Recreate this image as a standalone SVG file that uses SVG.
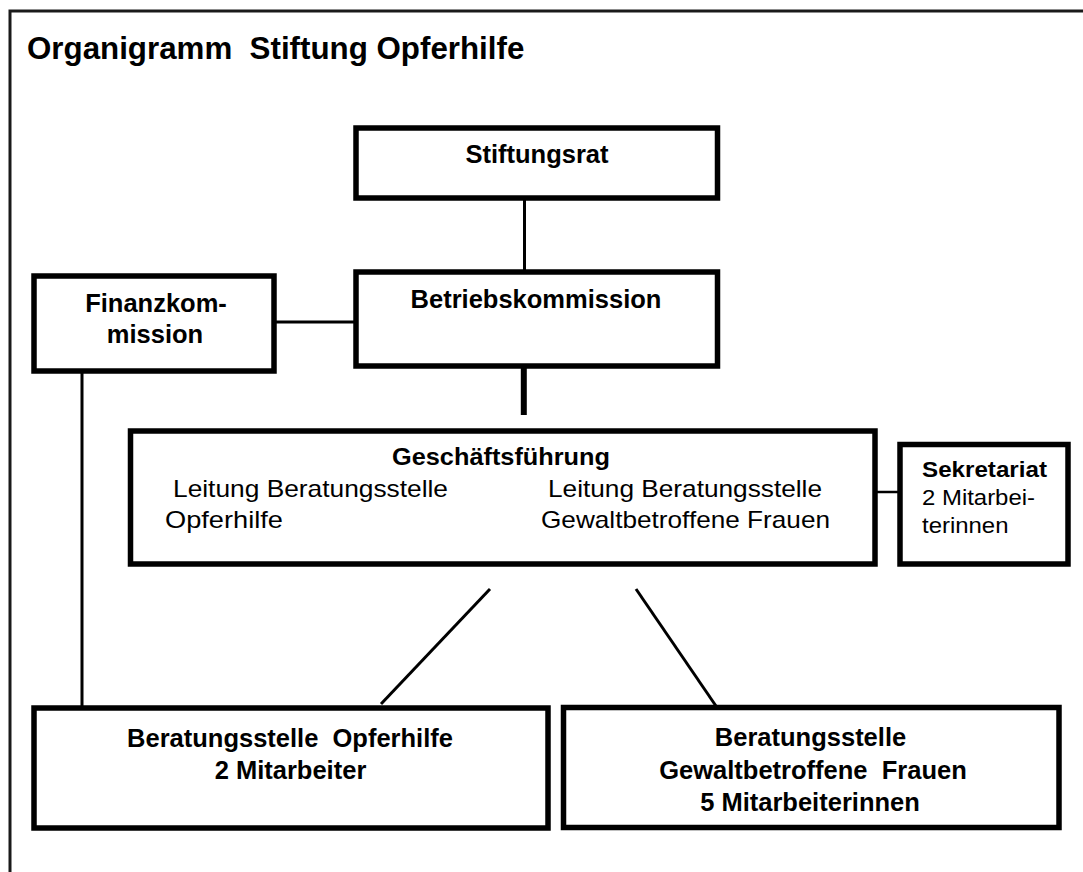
<svg xmlns="http://www.w3.org/2000/svg" width="1083" height="872" viewBox="0 0 1083 872">
<style>
.box{fill:#fff;stroke:#000;stroke-width:5.5}
.ln{stroke:#000;stroke-width:3;fill:none}
.t{font-family:"Liberation Sans",Arial,sans-serif;fill:#000}
.b{font-weight:bold;font-size:25.5px}
.r{font-size:24px}
.s{font-size:22px}
.c{text-anchor:middle}
</style>
<rect x="0" y="0" width="1083" height="872" fill="#fff"/>
<rect id="frame" x="10" y="11" width="1100" height="900" fill="none" stroke="#1a1a1a" stroke-width="3"/>
<text class="t" font-weight="bold" style="font-size:31.3px" x="27" y="58.5" xml:space="preserve">Organigramm  Stiftung Opferhilfe</text>
<g id="connectors">
<line class="ln" x1="524.5" y1="198" x2="524.5" y2="272"/>
<line class="ln" x1="523.8" y1="366" x2="523.8" y2="415" style="stroke-width:6"/>
<line class="ln" x1="274" y1="322" x2="356" y2="322"/>
<line class="ln" x1="82" y1="371" x2="82" y2="708"/>
<line class="ln" x1="875" y1="492" x2="900" y2="492" style="stroke-width:2.5"/>
<line class="ln" x1="490" y1="589" x2="381" y2="704"/>
<line class="ln" x1="636" y1="589" x2="716" y2="706"/>
</g>
<g id="stiftungsrat">
<rect class="box" x="356" y="128" width="361.5" height="70"/>
<text class="t b c" x="537" y="163">Stiftungsrat</text>
</g>
<g id="betriebskommission">
<rect class="box" x="356" y="272" width="361.5" height="94"/>
<text class="t b c" x="536" y="308">Betriebskommission</text>
</g>
<g id="finanzkommission">
<rect class="box" x="34" y="276" width="240" height="95"/>
<text class="t b c" x="156" y="311.5">Finanzkom-</text>
<text class="t b c" x="155" y="343">mission</text>
</g>
<g id="geschaeftsfuehrung">
<rect class="box" x="130.5" y="431" width="744.5" height="133"/>
<text class="t" x="392" y="465" font-weight="bold" style="font-size:24.5px" textLength="218" lengthAdjust="spacingAndGlyphs">Geschäftsführung</text>
<text class="t r" x="173" y="497" textLength="275" lengthAdjust="spacingAndGlyphs">Leitung Beratungsstelle</text>
<text class="t r" x="165" y="528" textLength="118" lengthAdjust="spacingAndGlyphs">Opferhilfe</text>
<text class="t r" x="548" y="497" textLength="274" lengthAdjust="spacingAndGlyphs">Leitung Beratungsstelle</text>
<text class="t r" x="541" y="528" textLength="289" lengthAdjust="spacingAndGlyphs">Gewaltbetroffene Frauen</text>
</g>
<g id="sekretariat">
<rect class="box" x="900" y="444.5" width="168" height="119.5"/>
<text class="t s" x="922" y="476.5" font-weight="bold" textLength="125" lengthAdjust="spacingAndGlyphs">Sekretariat</text>
<text class="t s" x="922" y="505" textLength="113" lengthAdjust="spacingAndGlyphs">2 Mitarbei-</text>
<text class="t s" x="922" y="533" textLength="86.5" lengthAdjust="spacingAndGlyphs">terinnen</text>
</g>
<g id="beratungsstelle-opferhilfe">
<rect class="box" x="34" y="708" width="514" height="120"/>
<text class="t b c" x="290" y="747" xml:space="preserve">Beratungsstelle  Opferhilfe</text>
<text class="t b c" x="290.5" y="779">2 Mitarbeiter</text>
</g>
<g id="beratungsstelle-frauen">
<rect class="box" x="563.5" y="707.5" width="495.5" height="120"/>
<text class="t b c" x="810.5" y="746">Beratungsstelle</text>
<text class="t b c" x="813" y="779" xml:space="preserve">Gewaltbetroffene  Frauen</text>
<text class="t b c" x="810" y="811">5 Mitarbeiterinnen</text>
</g>
</svg>
